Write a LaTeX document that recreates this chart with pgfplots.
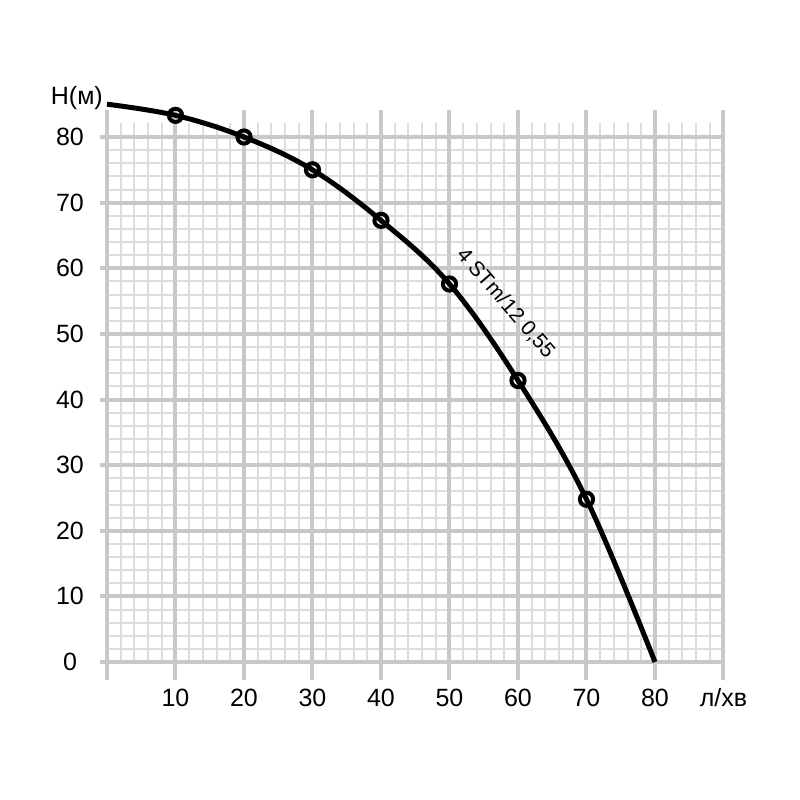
\documentclass[border=0pt]{standalone}
\usepackage{fontspec}
\setmainfont{Liberation Sans}
\usepackage{pgfplots}
\pgfplotsset{compat=1.18}
\definecolor{gmaj}{HTML}{C8C8C8}
\definecolor{gmin}{HTML}{DDDDDD}
\begin{document}
\begin{tikzpicture}
\path[use as bounding box] (-53.5pt,-69pt) rectangle (346.5pt,331pt);
\begin{axis}[
  scale only axis, width=308.25pt, height=262.5pt,
  xmin=0, xmax=90, ymin=0, ymax=80,
  clip=false,
  axis line style={draw=none},
  tick style={draw=none},
  major tick length=0pt,
  xtick={10,20,30,40,50,60,70,80},
  ytick={0,10,20,30,40,50,60,70,80},
  /pgf/number format/assume math mode=true,
  tick label style={font=\fontsize{12.5}{14}\selectfont, inner sep=0pt},
  xticklabel style={anchor=center, yshift=-18pt},
  yticklabel style={anchor=center, xshift=-18.5pt},
]
% minor grid
\pgfplotsinvokeforeach{2,4,6,8,12,14,16,18,22,24,26,28,32,34,36,38,42,44,46,48,52,54,56,58,62,64,66,68,72,74,76,78,82,84,86,88}{
  \draw[gmin, line width=1pt] (axis cs:#1,0) -- (axis cs:#1,82.2);
}
\pgfplotsinvokeforeach{2,4,6,8,12,14,16,18,22,24,26,28,32,34,36,38,42,44,46,48,52,54,56,58,62,64,66,68,72,74,76,78}{
  \draw[gmin, line width=1pt] (axis cs:0,#1) -- (axis cs:90,#1);
}
% major grid
\pgfplotsinvokeforeach{0,10,20,30,40,50,60,70,80}{
  \draw[gmaj, line width=2pt] (axis cs:-1,#1) -- (axis cs:90,#1);
}
\pgfplotsinvokeforeach{0,10,20,30,40,50,60,70,80,90}{
  \draw[gmaj, line width=2pt] (axis cs:#1,-2.7) -- (axis cs:#1,84.1);
}
% curve
\addplot[black, line width=2.5pt, smooth, tension=0.6] coordinates {
  (0,85) (10,83.3) (20,80) (30,75.0) (40,67.3) (50,57.6) (60,42.9) (70,24.8) (80,0)
};
\addplot[only marks, mark=o, mark size=3.3pt, mark options={fill=white, draw=black, line width=2pt}] coordinates {
  (10,83.3) (20,80) (30,75.0) (40,67.3) (50,57.6) (60,42.9) (70,24.8)
};
\node[font=\fontsize{10.5}{12}\selectfont, rotate=-49] at (axis cs:58.2,54.7) {4 STm/12 0,55};
\node[font=\fontsize{12.5}{14}\selectfont, anchor=center, inner sep=0pt] at (axis cs:-4.4,85.9) {H(м)};
\node[font=\fontsize{12.5}{14}\selectfont, anchor=center, inner sep=0pt, yshift=-18pt] at (axis cs:90,0) {л/хв};
\end{axis}
\end{tikzpicture}
\end{document}
